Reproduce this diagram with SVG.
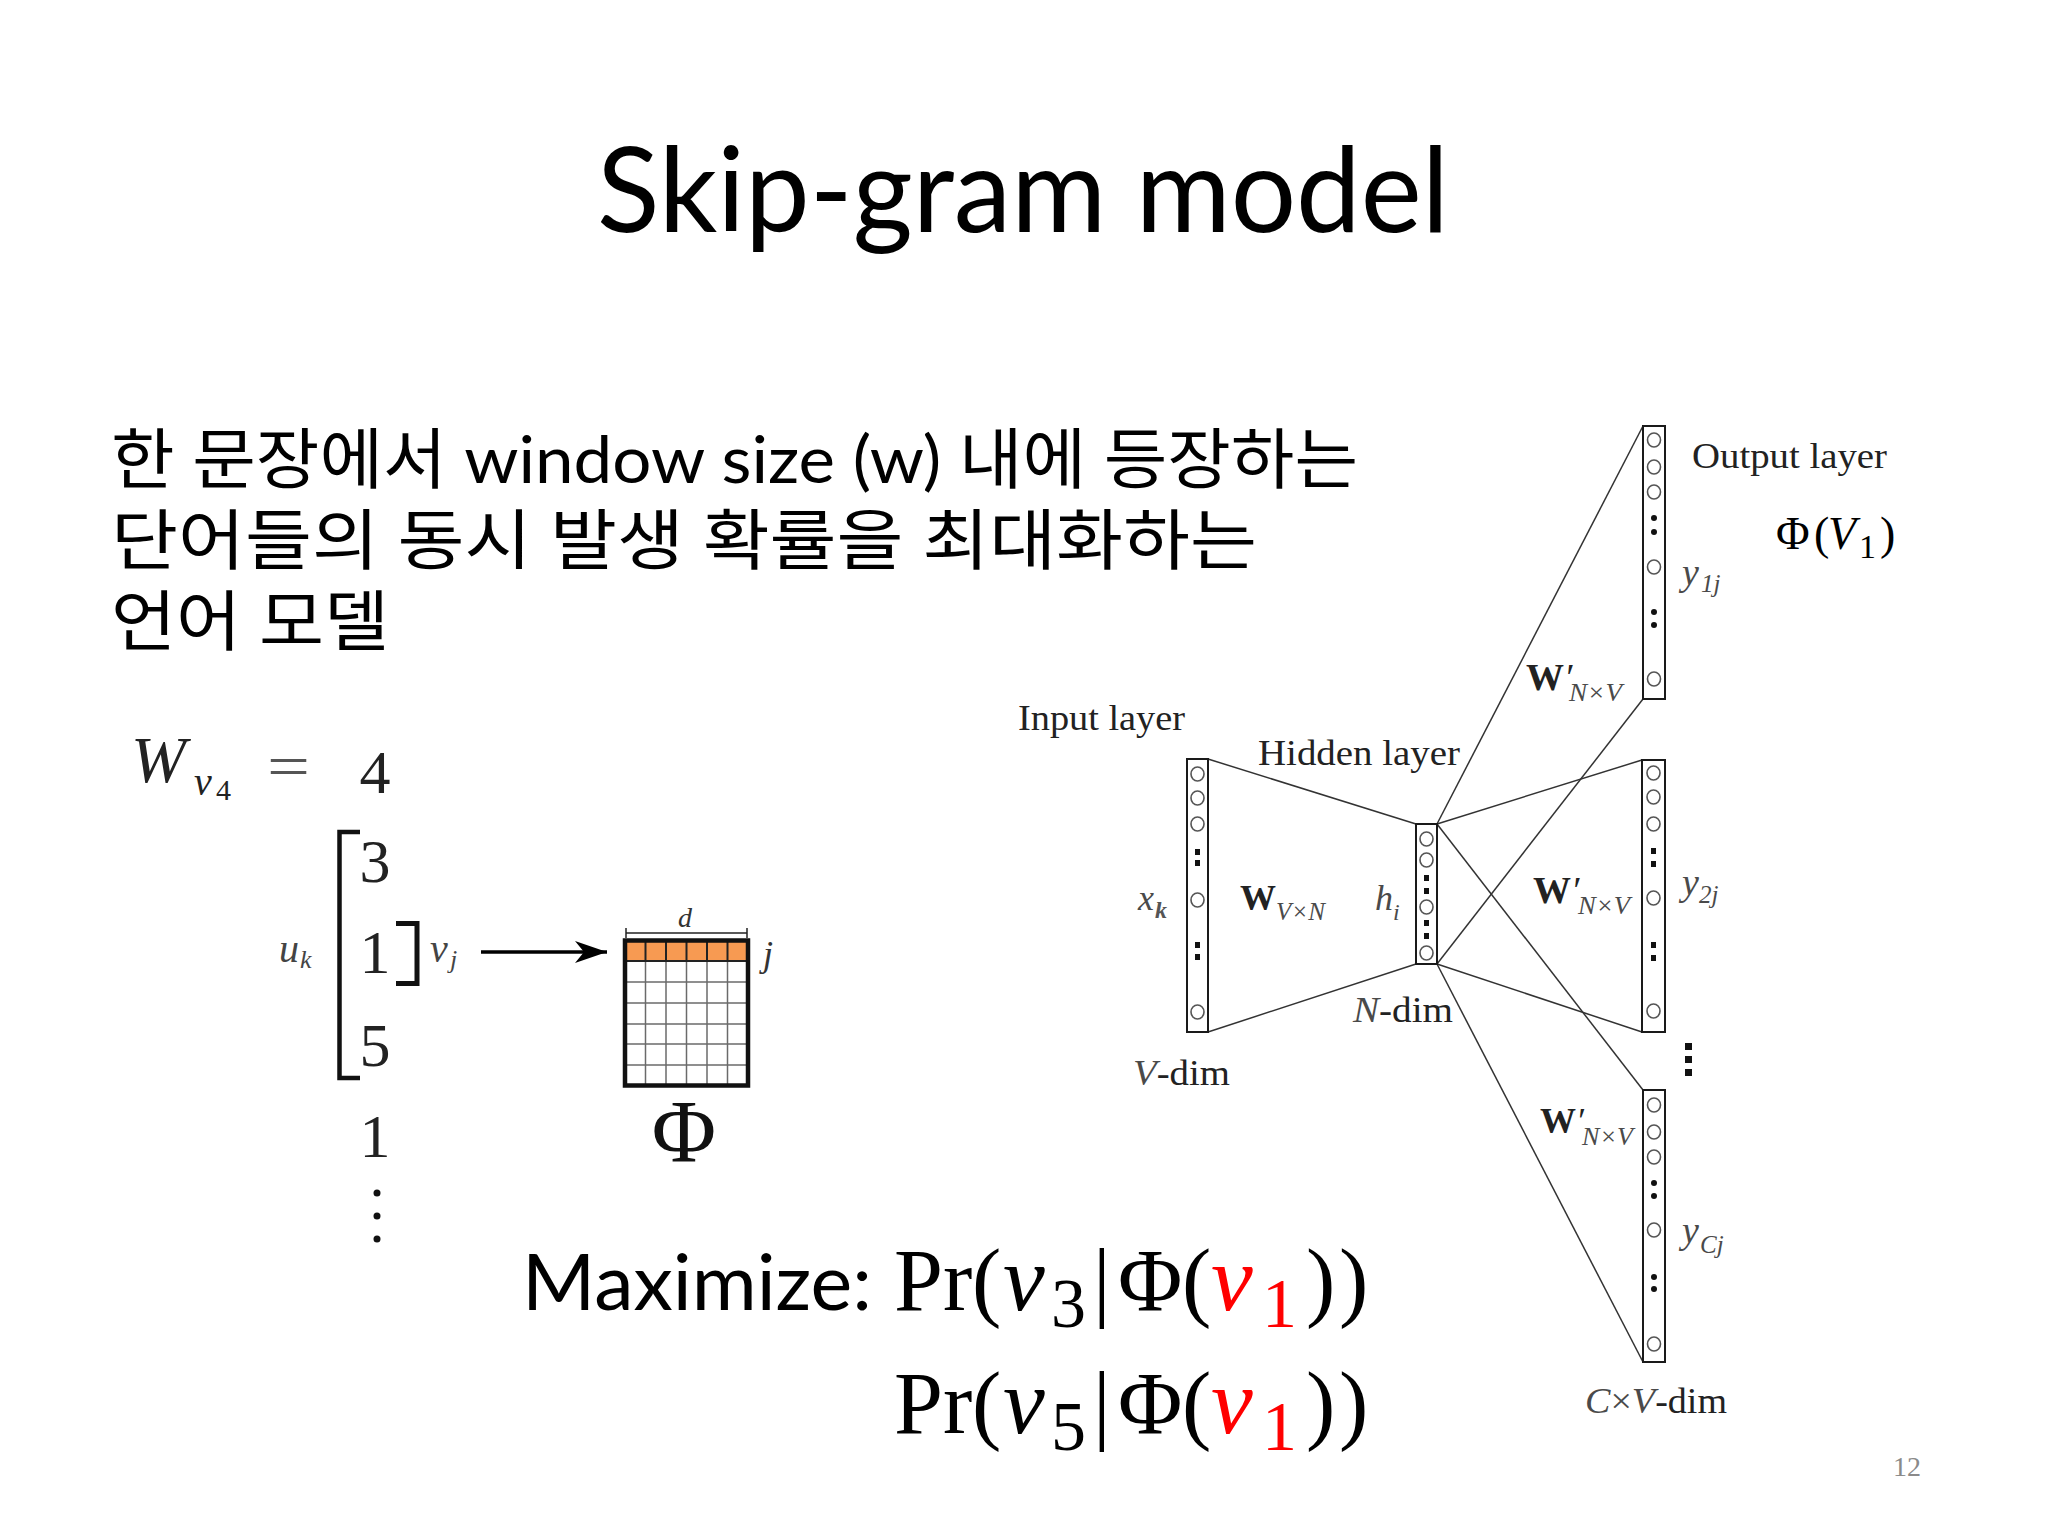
<svg xmlns="http://www.w3.org/2000/svg" width="2048" height="1536" viewBox="0 0 2048 1536">
<style>
  .sans { font-family: Lato, "Noto Sans CJK KR", "Noto Sans", sans-serif; fill: #000; }
  .ser { font-family: "Liberation Serif", "DejaVu Serif", serif; }
  .net { font-family: "Liberation Serif", serif; fill: #222; }
  .gr { fill: #4a4a4a; }
  .it { font-style: italic; }
  .box { fill: #fff; stroke: #1a1a1a; stroke-width: 2; }
  .nc { fill: none; stroke: #555; stroke-width: 1.6; }
  .dot { fill: #111; }
  .edge { stroke: #333; stroke-width: 1.5; fill: none; }
  .red { fill: #ff0000; }
  .cell { stroke: #6a6a6a; stroke-width: 1.5; }
</style>
<defs>
  <marker id="arrow" markerWidth="34" markerHeight="24" refX="32" refY="12" orient="auto" markerUnits="userSpaceOnUse">
    <path d="M0,1 L32,12 L0,23 L9,12 Z" fill="#000"/>
  </marker>
</defs>
<rect width="2048" height="1536" fill="#fff"/>

<g id="title">
  <text class="sans" x="597" y="232" font-size="118" textLength="852" lengthAdjust="spacingAndGlyphs">Skip-gram model</text>
</g>

<g id="description">
  <text class="sans" x="111" y="483" font-size="66" textLength="1247" lengthAdjust="spacingAndGlyphs">한 문장에서 window size (w) 내에 등장하는</text>
  <text class="sans" x="111" y="564" font-size="66" textLength="1146" lengthAdjust="spacingAndGlyphs">단어들의 동시 발생 확률을 최대화하는</text>
  <text class="sans" x="111" y="645" font-size="66" textLength="278" lengthAdjust="spacingAndGlyphs">언어 모델</text>
</g>

<g id="walk-sequence" class="ser" fill="#222">
  <text x="131" y="782" font-size="66" class="it">W</text>
  <text x="194" y="795" font-size="40" class="it">v</text>
  <text x="216" y="800" font-size="30">4</text>
  <text x="267" y="787" font-size="62" textLength="43" lengthAdjust="spacingAndGlyphs" fill="#555">=</text>
  <text x="375" y="793" font-size="62" text-anchor="middle">4</text>
  <text x="375" y="882" font-size="62" text-anchor="middle">3</text>
  <text x="375" y="973" font-size="62" text-anchor="middle">1</text>
  <text x="375" y="1066" font-size="62" text-anchor="middle">5</text>
  <text x="375" y="1157" font-size="62" text-anchor="middle">1</text>
  <circle cx="377" cy="1193" r="3.5" fill="#111"/>
  <circle cx="377" cy="1216" r="3.5" fill="#111"/>
  <circle cx="377" cy="1239" r="3.5" fill="#111"/>
  <path d="M360,832 H339.5 V1078 H360" fill="none" stroke="#111" stroke-width="4.5"/>
  <path d="M396,923.5 H417 V983.5 H396" fill="none" stroke="#111" stroke-width="5"/>
  <text x="279" y="962" font-size="40" class="it" fill="#444">u</text>
  <text x="300" y="968" font-size="26" class="it" fill="#444">k</text>
  <text x="430" y="962" font-size="40" class="it" fill="#444">v</text>
  <text x="450" y="968" font-size="26" class="it" fill="#444">j</text>
</g>

<g id="embedding-matrix">
  <rect x="625" y="942" width="123" height="19" fill="#f79a52"/>
  <g class="cell">
    <line x1="645.5" y1="961" x2="645.5" y2="1086"/>
    <line x1="666" y1="961" x2="666" y2="1086"/>
    <line x1="686.5" y1="961" x2="686.5" y2="1086"/>
    <line x1="707" y1="961" x2="707" y2="1086"/>
    <line x1="727.5" y1="961" x2="727.5" y2="1086"/>
    <line x1="625" y1="982" x2="748" y2="982"/>
    <line x1="625" y1="1003" x2="748" y2="1003"/>
    <line x1="625" y1="1024" x2="748" y2="1024"/>
    <line x1="625" y1="1044" x2="748" y2="1044"/>
    <line x1="625" y1="1065" x2="748" y2="1065"/>
  </g>
  <g stroke="#222" stroke-width="2">
    <line x1="645.5" y1="942" x2="645.5" y2="961"/>
    <line x1="666" y1="942" x2="666" y2="961"/>
    <line x1="686.5" y1="942" x2="686.5" y2="961"/>
    <line x1="707" y1="942" x2="707" y2="961"/>
    <line x1="727.5" y1="942" x2="727.5" y2="961"/>
    <line x1="625" y1="961" x2="748" y2="961"/>
  </g>
  <rect x="625" y="940.5" width="123" height="145" fill="none" stroke="#111" stroke-width="4.5"/>
  <g stroke="#222" stroke-width="1.5">
    <line x1="626" y1="933" x2="747" y2="933"/>
    <line x1="626" y1="928" x2="626" y2="938"/>
    <line x1="747" y1="928" x2="747" y2="938"/>
  </g>
  <text class="ser it" x="685" y="927" font-size="28" text-anchor="middle" fill="#333">d</text>
  <text class="ser it" x="763" y="966" font-size="36" fill="#333">j</text>
  <text class="ser" x="684" y="1161" font-size="88" text-anchor="middle" fill="#111">Φ</text>
</g>

<g id="objective">
  <text class="sans" x="522" y="1310" font-size="78" textLength="350" lengthAdjust="spacingAndGlyphs">Maximize:</text>
  <g class="ser" font-size="88" fill="#000">
    <text x="894" y="1310">Pr</text>
    <text x="972" y="1310">(</text>
    <text x="1003" y="1310" class="it" font-size="94">v</text>
    <text x="1051" y="1327" font-size="70">3</text>
    <text x="1093" y="1310">|</text>
    <text x="1118" y="1310">Φ</text>
    <text x="1182" y="1310">(</text>
    <text x="1211" y="1310" class="it red" font-size="94">v</text>
    <text x="1262" y="1327" font-size="70" class="red">1</text>
    <text x="1306" y="1310">)</text>
    <text x="1339" y="1310">)</text>

    <text x="894" y="1433">Pr</text>
    <text x="972" y="1433">(</text>
    <text x="1003" y="1433" class="it" font-size="94">v</text>
    <text x="1051" y="1450" font-size="70">5</text>
    <text x="1093" y="1433">|</text>
    <text x="1118" y="1433">Φ</text>
    <text x="1182" y="1433">(</text>
    <text x="1211" y="1433" class="it red" font-size="94">v</text>
    <text x="1262" y="1450" font-size="70" class="red">1</text>
    <text x="1306" y="1433">)</text>
    <text x="1339" y="1433">)</text>
  </g>
</g>

<g id="connectors">
  <line x1="481" y1="952" x2="607" y2="952" stroke="#000" stroke-width="3.5" marker-end="url(#arrow)"/>
  <line class="edge" x1="1208" y1="759" x2="1416" y2="824"/>
  <line class="edge" x1="1208" y1="1032" x2="1416" y2="964"/>
  <line class="edge" x1="1437" y1="824" x2="1643" y2="426"/>
  <line class="edge" x1="1437" y1="964" x2="1643" y2="699"/>
  <line class="edge" x1="1437" y1="824" x2="1642" y2="760"/>
  <line class="edge" x1="1437" y1="964" x2="1642" y2="1032"/>
  <line class="edge" x1="1437" y1="824" x2="1643" y2="1090"/>
  <line class="edge" x1="1437" y1="964" x2="1643" y2="1362"/>
</g>

<g id="input-layer">
  <rect class="box" x="1187" y="759" width="21" height="273"/>
  <ellipse class="nc" cx="1197.5" cy="774" rx="6.5" ry="7"/>
  <ellipse class="nc" cx="1197.5" cy="798" rx="6.5" ry="7"/>
  <ellipse class="nc" cx="1197.5" cy="824" rx="6.5" ry="7"/>
  <rect class="dot" x="1195" y="849" width="5" height="6"/>
  <rect class="dot" x="1195" y="860" width="5" height="6"/>
  <ellipse class="nc" cx="1197.5" cy="900" rx="6.5" ry="7"/>
  <rect class="dot" x="1195" y="942" width="5" height="6"/>
  <rect class="dot" x="1195" y="954" width="5" height="6"/>
  <ellipse class="nc" cx="1197.5" cy="1012" rx="6.5" ry="7"/>
</g>

<g id="hidden-layer">
  <rect class="box" x="1416" y="824" width="21" height="140"/>
  <ellipse class="nc" cx="1426.5" cy="839" rx="6.5" ry="7"/>
  <ellipse class="nc" cx="1426.5" cy="860" rx="6.5" ry="7"/>
  <rect class="dot" x="1424" y="875" width="5" height="6"/>
  <rect class="dot" x="1424" y="888" width="5" height="6"/>
  <ellipse class="nc" cx="1426.5" cy="907" rx="6.5" ry="7"/>
  <rect class="dot" x="1424" y="920" width="5" height="6"/>
  <rect class="dot" x="1424" y="933" width="5" height="6"/>
  <ellipse class="nc" cx="1426.5" cy="953" rx="6.5" ry="7"/>
</g>

<g id="output-layer-1">
  <rect class="box" x="1643" y="426" width="22" height="273"/>
  <ellipse class="nc" cx="1654" cy="440" rx="6.5" ry="7"/>
  <ellipse class="nc" cx="1654" cy="467" rx="6.5" ry="7"/>
  <ellipse class="nc" cx="1654" cy="492" rx="6.5" ry="7"/>
  <circle class="dot" cx="1654" cy="518" r="3"/>
  <circle class="dot" cx="1654" cy="532" r="3"/>
  <ellipse class="nc" cx="1654" cy="567" rx="6.5" ry="7"/>
  <circle class="dot" cx="1654" cy="612" r="3"/>
  <circle class="dot" cx="1654" cy="625" r="3"/>
  <ellipse class="nc" cx="1654" cy="679" rx="6.5" ry="7"/>
</g>

<g id="output-layer-2">
  <rect class="box" x="1642" y="760" width="23" height="272"/>
  <ellipse class="nc" cx="1653.5" cy="773" rx="6.5" ry="7"/>
  <ellipse class="nc" cx="1653.5" cy="797" rx="6.5" ry="7"/>
  <ellipse class="nc" cx="1653.5" cy="824" rx="6.5" ry="7"/>
  <rect class="dot" x="1651" y="848" width="5" height="6"/>
  <rect class="dot" x="1651" y="861" width="5" height="6"/>
  <ellipse class="nc" cx="1653.5" cy="898" rx="6.5" ry="7"/>
  <rect class="dot" x="1651" y="942" width="5" height="6"/>
  <rect class="dot" x="1651" y="955" width="5" height="6"/>
  <ellipse class="nc" cx="1653.5" cy="1011" rx="6.5" ry="7"/>
</g>

<g id="output-ellipsis">
  <rect class="dot" x="1685" y="1043" width="7" height="7"/>
  <rect class="dot" x="1685" y="1056" width="7" height="7"/>
  <rect class="dot" x="1685" y="1069" width="7" height="7"/>
</g>

<g id="output-layer-3">
  <rect class="box" x="1643" y="1090" width="22" height="272"/>
  <ellipse class="nc" cx="1654" cy="1105" rx="6.5" ry="7"/>
  <ellipse class="nc" cx="1654" cy="1132" rx="6.5" ry="7"/>
  <ellipse class="nc" cx="1654" cy="1157" rx="6.5" ry="7"/>
  <circle class="dot" cx="1654" cy="1183" r="3"/>
  <circle class="dot" cx="1654" cy="1196" r="3"/>
  <ellipse class="nc" cx="1654" cy="1230" rx="6.5" ry="7"/>
  <circle class="dot" cx="1654" cy="1277" r="3"/>
  <circle class="dot" cx="1654" cy="1289" r="3"/>
  <ellipse class="nc" cx="1654" cy="1344" rx="6.5" ry="7"/>
</g>

<g id="network-labels" class="net">
  <text x="1018" y="730" font-size="35" textLength="167" lengthAdjust="spacingAndGlyphs">Input layer</text>
  <text x="1258" y="765" font-size="35" textLength="202" lengthAdjust="spacingAndGlyphs">Hidden layer</text>
  <text x="1692" y="468" font-size="35" textLength="195" lengthAdjust="spacingAndGlyphs">Output layer</text>
  <text x="1353" y="1022" font-size="35" textLength="100" lengthAdjust="spacingAndGlyphs"><tspan class="it gr">N</tspan>-dim</text>
  <text x="1133" y="1085" font-size="35" textLength="97" lengthAdjust="spacingAndGlyphs"><tspan class="it gr">V</tspan>-dim</text>
  <text x="1585" y="1413" font-size="35" textLength="142" lengthAdjust="spacingAndGlyphs"><tspan class="it gr">C</tspan><tspan class="gr">×</tspan><tspan class="it gr">V</tspan>-dim</text>

  <text x="1138" y="910" font-size="36" class="it gr">x</text>
  <text x="1155" y="918" font-size="24" class="it" font-weight="bold" fill="#555">k</text>
  <text x="1240" y="910" font-size="36" font-weight="bold">W</text>
  <text x="1276" y="920" font-size="25" class="it gr" textLength="49" lengthAdjust="spacingAndGlyphs">V×N</text>
  <text x="1375" y="910" font-size="36" class="it gr">h</text>
  <text x="1393" y="920" font-size="24" class="it gr">i</text>

  <text x="1526" y="690" font-size="38" font-weight="bold">W<tspan font-weight="normal" class="it">′</tspan></text>
  <text x="1569" y="701" font-size="25" class="it gr" textLength="53" lengthAdjust="spacingAndGlyphs">N×V</text>
  <text x="1533" y="903" font-size="38" font-weight="bold">W<tspan font-weight="normal" class="it">′</tspan></text>
  <text x="1578" y="914" font-size="25" class="it gr" textLength="52" lengthAdjust="spacingAndGlyphs">N×V</text>
  <text x="1540" y="1133" font-size="36" font-weight="bold">W<tspan font-weight="normal" class="it">′</tspan></text>
  <text x="1582" y="1145" font-size="25" class="it gr" textLength="51" lengthAdjust="spacingAndGlyphs">N×V</text>

  <text x="1682" y="585" font-size="38" class="it gr">y</text>
  <text x="1701" y="592" font-size="25" class="it gr">1j</text>
  <text x="1682" y="895" font-size="38" class="it gr">y</text>
  <text x="1699" y="903" font-size="25" class="it gr">2j</text>
  <text x="1682" y="1243" font-size="38" class="it gr">y</text>
  <text x="1700" y="1253" font-size="25" class="it gr">Cj</text>
</g>

<g id="phi-v1" class="ser" font-size="46" fill="#000">
  <text x="1776" y="549">Φ</text>
  <text x="1814" y="549">(</text>
  <text x="1828" y="549" class="it">V</text>
  <text x="1859" y="558" font-size="34">1</text>
  <text x="1880" y="549">)</text>
</g>

<g id="page-number">
  <text class="ser" x="1893" y="1476" font-size="28" fill="#8a8a8a">12</text>
</g>
</svg>
